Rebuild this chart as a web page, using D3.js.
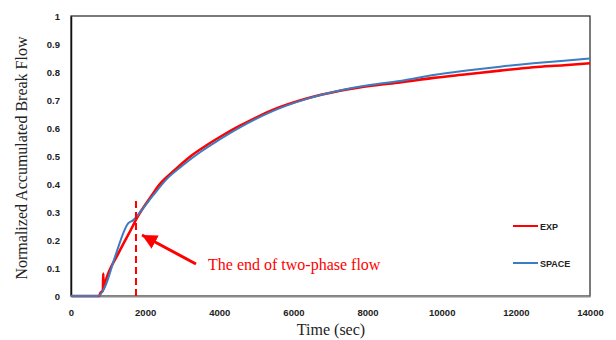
<!DOCTYPE html>
<html>
<head>
<meta charset="utf-8">
<script src="https://cdn.jsdelivr.net/npm/d3@7"></script>
<style>
  body { margin: 0; background: #fff; }
  .tick text { font-family: "Liberation Sans", Arial, sans-serif; font-weight: bold; font-size: 9.5px; fill: #222; }
</style>
</head>
<body>
<svg id="chart" width="616" height="340"></svg>
<script>
// EXP (measured) break flow, normalized
var expTime = [0, 760, 790, 860, 871, 880, 917, 1277, 1636, 1771, 2219, 2310, 2800, 3210, 3700, 4106, 4559, 5456, 6357, 7257, 8155, 8875, 9773, 10673, 11572, 12470, 13300, 14000];
var expFlow = [0, 0, 0.01, 0.02, 0.08, 0.025, 0.045, 0.152, 0.242, 0.277, 0.367, 0.385, 0.45, 0.4975, 0.542, 0.575, 0.608, 0.665, 0.705, 0.733, 0.752, 0.763, 0.779, 0.792, 0.805, 0.817, 0.824, 0.831];
// SPACE code prediction
var spaceTime = [0, 737, 917, 1187, 1546, 1681, 1906, 2219, 2600, 3000, 3500, 4000, 4559, 5456, 6357, 7257, 8155, 8875, 9773, 10673, 11572, 12470, 13300, 14000];
var spaceFlow = [0, 0, 0.033, 0.14, 0.26, 0.271, 0.307, 0.36, 0.42, 0.465, 0.515, 0.558, 0.602, 0.661, 0.704, 0.734, 0.755, 0.768, 0.789, 0.805, 0.819, 0.831, 0.84, 0.848];

var xTicks = [0, 2000, 4000, 6000, 8000, 10000, 12000, 14000];
var yTicks = d3.range(0, 11).map(function(i){ return i / 10; });
var endTime = 1753, endTop = 0.343;

var svg = d3.select("#chart"),
  pLeft = 71, pRight = 590, pTop = 16, pBottom = 296,
  x = d3.scaleLinear().domain([0, 14000]).range([pLeft, pRight]),
  y = d3.scaleLinear().domain([0, 1]).range([pBottom, pTop]);

// frame
svg.append("rect").attr("x", pLeft).attr("y", pTop)
  .attr("width", pRight - pLeft).attr("height", pBottom - pTop)
  .attr("fill", "none").attr("stroke", "#333").attr("stroke-width", 1.3);

var yAxis = svg.append("g").attr("transform", "translate(" + pLeft + ",0)")
  .call(d3.axisLeft(y).tickValues(yTicks).tickSize(0).tickPadding(11).tickFormat(d3.format("~g")));
yAxis.select(".domain").attr("stroke", "#111").attr("stroke-width", 1.5);

var xAxis = svg.append("g").attr("transform", "translate(0," + pBottom + ")")
  .call(d3.axisBottom(x).tickValues(xTicks).tickSize(0).tickPadding(13).tickFormat(d3.format("d")));
xAxis.select(".domain").attr("stroke", "#8a8a8a").attr("stroke-width", 2);

// axis titles
svg.append("text").attr("x", 331).attr("y", 335).attr("text-anchor", "middle")
  .style("font-family", "'Liberation Serif', 'Times New Roman', serif").style("font-size", "16px").attr("fill", "#222")
  .text("Time (sec)");
svg.append("text").attr("transform", "translate(27,158) rotate(-90)").attr("text-anchor", "middle")
  .style("font-family", "'Liberation Serif', 'Times New Roman', serif").style("font-size", "16px").attr("fill", "#222")
  .text("Normalized Accumulated Break Flow");

var line = d3.line().curve(d3.curveMonotoneX)
  .x(function(d){ return x(d[0]); }).y(function(d){ return y(d[1]); });
var expData = expTime.map(function(t, i){ return [t, expFlow[i]]; });
var spaceData = spaceTime.map(function(t, i){ return [t, spaceFlow[i]]; });

svg.append("path").datum(expData).attr("d", line)
  .attr("fill", "none").attr("stroke", "#ff0000").attr("stroke-width", 2.6);
svg.append("path").datum(spaceData).attr("d", line)
  .attr("fill", "none").attr("stroke", "#3c7cc0").attr("stroke-width", 2);

// end of two-phase flow marker
svg.append("line").attr("x1", x(endTime)).attr("x2", x(endTime))
  .attr("y1", y(0)).attr("y2", y(endTop))
  .attr("stroke", "#ff0000").attr("stroke-width", 2).attr("stroke-dasharray", "7,4");

svg.append("defs").append("marker").attr("id", "head")
  .attr("viewBox", "0 0 10 10").attr("refX", 10).attr("refY", 5)
  .attr("markerWidth", 5).attr("markerHeight", 5).attr("orient", "auto")
  .attr("markerUnits", "strokeWidth")
  .append("path").attr("d", "M0,0L10,5L0,10z").attr("fill", "#ff0000");
svg.append("line").attr("x1", 196).attr("y1", 264).attr("x2", 142).attr("y2", 235)
  .attr("stroke", "#ff0000").attr("stroke-width", 3).attr("marker-end", "url(#head)");

svg.append("text").attr("x", 208).attr("y", 270)
  .style("font-family", "'Liberation Serif', 'Times New Roman', serif").style("font-size", "16px").attr("fill", "#ff0000")
  .text("The end of two-phase flow");

// legend
var legend = [["EXP", "#ff0000", 226], ["SPACE", "#3c7cc0", 263]];
legend.forEach(function(l){
  svg.append("line").attr("x1", 513).attr("x2", 538).attr("y1", l[2]).attr("y2", l[2])
    .attr("stroke", l[1]).attr("stroke-width", 2);
  svg.append("text").attr("x", 540).attr("y", l[2] + 3.5)
    .style("font-family", "'Liberation Sans', Arial, sans-serif").style("font-weight", "bold").style("font-size", "9px").attr("fill", "#222")
    .text(l[0]);
});
</script>
</body>
</html>
